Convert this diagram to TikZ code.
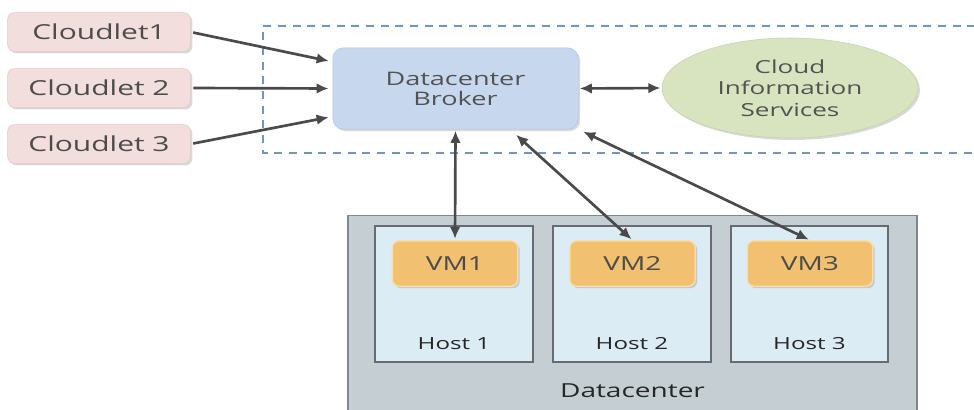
\documentclass[tikz,border=0pt]{standalone}
\usepackage{fontspec}
\setmainfont{Open Sans}[FakeStretch=1.45]
\usetikzlibrary{positioning}
\usetikzlibrary{arrows.meta}
\usetikzlibrary{shapes}
\usetikzlibrary{shadows}

\definecolor{cletfill}{RGB}{242,222,221}
\definecolor{cletdraw}{RGB}{228,200,198}
\definecolor{brokfill}{RGB}{199,215,238}
\definecolor{brokdraw}{RGB}{178,196,222}
\definecolor{cisfill}{RGB}{216,228,192}
\definecolor{cisdraw}{RGB}{196,210,170}
\definecolor{dcfill}{RGB}{197,207,211}
\definecolor{dcdraw}{RGB}{128,136,140}
\definecolor{hostfill}{RGB}{219,236,245}
\definecolor{hostdraw}{RGB}{104,108,112}
\definecolor{vmfill}{RGB}{241,192,112}
\definecolor{vmdraw}{RGB}{250,222,170}
\definecolor{arrowgray}{RGB}{74,74,74}
\definecolor{dashblue}{RGB}{110,150,190}

\tikzset{
    softshadow/.style={drop shadow={shadow xshift=1.5pt,shadow yshift=-1.5pt,opacity=0.3}},
    cloudlet/.style={rectangle,rounded corners=5pt,fill=cletfill,draw=cletdraw,softshadow,
        minimum width=137pt,minimum height=29pt,inner sep=0pt,text=black!70,font=\fontsize{15.5}{18}\selectfont},
    vmbox/.style={rectangle,rounded corners=5pt,fill=vmfill,draw=vmdraw,line width=1pt,softshadow,
        minimum width=94pt,minimum height=34pt,inner sep=0pt,text=black!70,font=\fontsize{14.5}{16}\selectfont},
    hostbox/.style={rectangle,fill=hostfill,draw=hostdraw,line width=1.5pt,
        minimum width=118pt,minimum height=102pt,inner sep=0pt},
    hostname/.style={font=\fontsize{12.5}{14}\selectfont,text=black!85},
    link/.style={<->,line width=2pt,draw=arrowgray}
}

\begin{document}
\begin{tikzpicture}[>={Latex[length=9pt,width=8pt]}, x=0.75pt, y=-0.75pt, node distance=0pt]
    \useasboundingbox (0,0) rectangle (974,410);

    % the cloudlets on the left
    \node[cloudlet] (cloudlet1) at (99,32) {Cloudlet1};
    \node[cloudlet] (cloudlet2) at (99,88) {Cloudlet 2};
    \node[cloudlet] (cloudlet3) at (99,144) {Cloudlet 3};

    % dashed frame round broker and CIS
    \draw[dashblue,line width=1pt,dash pattern=on 6pt off 5pt] (990,26) -- (263,26) -- (263,153) -- (990,153);

    \node[rectangle,rounded corners=8pt,fill=brokfill,draw=brokdraw,softshadow,minimum width=184pt,minimum height=61pt,
        align=center,text=black!68,font=\fontsize{14}{15}\selectfont] (broker) at (455.5,88.5) {Datacenter\\Broker};

    \node[ellipse,fill=cisfill,draw=cisdraw,softshadow,minimum width=192pt,minimum height=75pt,inner sep=0pt,
        align=center,text=black!68,font=\fontsize{13.5}{16}\selectfont] (cis) at (790,88) {Cloud\\Information\\Services};

    % the datacenter with hosts and vms
    \node[rectangle,fill=dcfill,draw=dcdraw,line width=1.2pt,minimum width=427pt,minimum height=160pt,inner sep=0pt] (dc) at (632.5,322) {};
    \node[font=\fontsize{14.5}{16}\selectfont,text=black!85] (dclabel) at (632.5,391) {Datacenter};

    \node[hostbox] (host1) at (454,293.5) {};
    \node[hostbox] (host2) at (632,293.5) {};
    \node[hostbox] (host3) at (809.5,293.5) {};
    \node[above=6pt of host1.south,hostname] (hostlabel1) {Host 1};
    \node[above=6pt of host2.south,hostname] (hostlabel2) {Host 2};
    \node[above=6pt of host3.south,hostname] (hostlabel3) {Host 3};

    \node[vmbox] (vm1) at (455,263.5) {VM1};
    \node[vmbox] (vm2) at (632.5,263.5) {VM2};
    \node[vmbox] (vm3) at (810,263.5) {VM3};

    % the arrows
    \draw [->,line width=2pt,draw=arrowgray,shorten <=2pt,shorten >=3pt](cloudlet1.east) to ([yshift=20pt]broker.west);
    \draw [->,line width=2pt,draw=arrowgray,shorten <=2pt,shorten >=3pt](cloudlet2.east) to (broker.west);
    \draw [->,line width=2pt,draw=arrowgray,shorten <=2pt,shorten >=3pt](cloudlet3.east) to ([yshift=-21pt]broker.west);
    \draw [link,shorten <=1pt,shorten >=1pt](broker.east) to (cis.west);
    \draw [link,shorten <=1pt,shorten >=1pt](broker.south) to (vm1.north);
    \draw [link,shorten <=6pt,shorten >=1pt]([xshift=41pt]broker.south) to (vm2.north);
    \draw [link,shorten <=4pt,shorten >=1pt](broker.south east) to (vm3.north);
\end{tikzpicture}
\end{document}
